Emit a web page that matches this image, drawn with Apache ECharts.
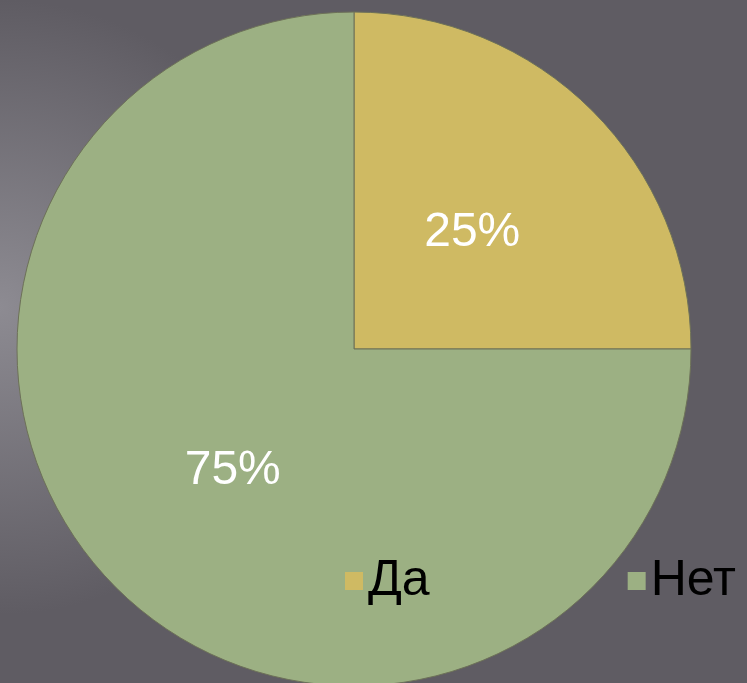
<!DOCTYPE html>
<html>
<head>
<meta charset="utf-8">
<script src="https://cdn.jsdelivr.net/npm/echarts@6/dist/echarts.min.js"></script>
<style>
  html, body { margin: 0; padding: 0; }
  #chart { width: 747px; height: 683px; }
</style>
</head>
<body>
<div id="chart"></div>
<script>
  const categories = ['Да', 'Нет'];
  const values = [25, 75];
  const colors = ['#cfba63', '#9cb083'];

  const chart = echarts.init(document.getElementById('chart'));

  chart.setOption({
    backgroundColor: {
      type: 'radial',
      x: 0,
      y: 0.45,
      r: 0.45,
      colorStops: [
        { offset: 0, color: '#8d8b92' },
        { offset: 1, color: '#5f5c63' },
      ],
    },
    animation: false,
    color: colors,
    legend: {
      data: categories,
      left: 340,
      top: 551,
      icon: 'rect',
      itemWidth: 18,
      itemHeight: 18,
      itemGap: 198,
      itemStyle: { borderWidth: 0 },
      textStyle: {
        fontFamily: 'Liberation Sans, Arial, sans-serif',
        fontSize: 50,
        color: '#000',
      },
    },
    series: [
      {
        type: 'pie',
        center: [354, 349],
        radius: 337,
        startAngle: 90,
        clockwise: true,
        data: categories.map((name, i) => ({
          name,
          value: values[i],
          label: i === 0 ? { offset: [-3, 5] } : {},
        })),
        itemStyle: { borderColor: '#6d7158', borderWidth: 1 },
        label: {
          position: 'inner',
          formatter: '{d}%',
          color: '#fff',
          fontFamily: 'Liberation Sans, Arial, sans-serif',
          fontSize: 48,
        },
        labelLine: { show: false },
        emphasis: { disabled: true },
      },
    ],
  });
</script>
</body>
</html>
